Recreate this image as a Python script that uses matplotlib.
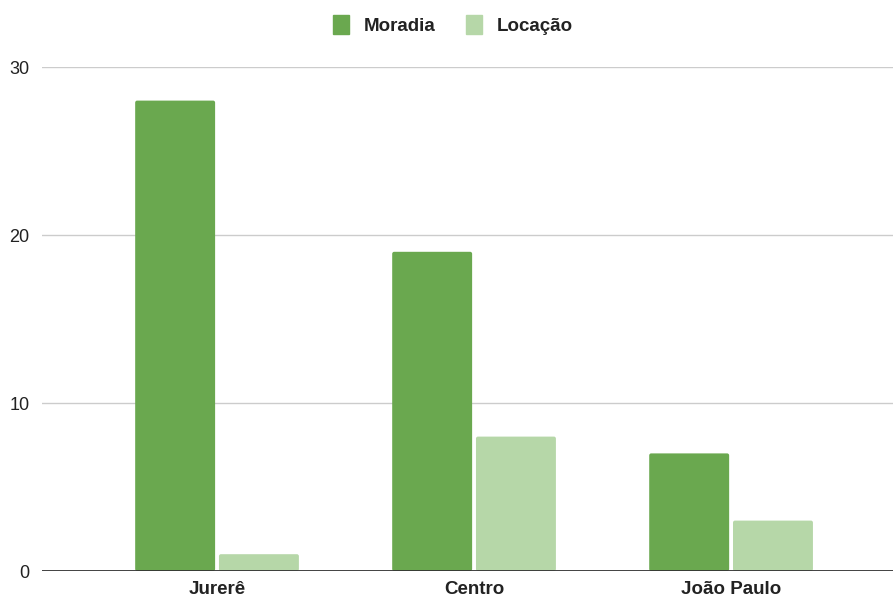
import numpy as np
import matplotlib.pyplot as plt
from matplotlib.patches import FancyBboxPatch

plt.rcParams["font.family"] = ["Liberation Sans", "DejaVu Sans"]

# bairros e contagens por tipo de uso
categories = ["Jurerê", "Centro", "João Paulo"]
moradia = [28, 19, 7]
locacao = [1, 8, 3]
series_names = ["Moradia", "Locação"]
y_ticks = [0, 10, 20, 30]

DARK_GREEN = "#6aa84f"
LIGHT_GREEN = "#b6d7a8"
GRID_COLOR = "#cccccc"
TEXT_COLOR = "#222222"

W, H = 893, 599
fig = plt.figure(figsize=(W / 100, H / 100), dpi=100)
ax = fig.add_axes([42 / W, 28 / H, 1 - 42 / W, 504 / H])

x = np.arange(len(categories))
width = 0.311
offset = 0.163
xlim = (-0.681, 2.630)
ylim = (0, 30)

bars_m = ax.bar(x - offset, moradia, width, color=DARK_GREEN, zorder=3)
bars_l = ax.bar(x + offset, locacao, width, color=LIGHT_GREEN, zorder=3)

# data units per pixel, so the corner radius comes out round on screen
x_per_px = (xlim[1] - xlim[0]) / (W - 42)
y_per_px = (ylim[1] - ylim[0]) / 504

# swap plain rectangles for ones with slightly rounded corners
for bars in (bars_m, bars_l):
    for rect in bars:
        rect.set_visible(False)
        fb = FancyBboxPatch((rect.get_x(), rect.get_y()), rect.get_width(), rect.get_height(),
                            boxstyle=f"round,pad=0,rounding_size={2 * x_per_px}",
                            mutation_aspect=y_per_px / x_per_px,
                            facecolor=rect.get_facecolor(), edgecolor="none", zorder=3)
        ax.add_patch(fb)

ax.set_xlim(*xlim)
ax.set_ylim(*ylim)
ax.set_yticks(y_ticks)
ax.set_yticklabels([str(v) for v in y_ticks], fontsize=13, color=TEXT_COLOR)
ax.set_xticks(x)
ax.set_xticklabels(categories, fontsize=13.5, fontweight="bold", color=TEXT_COLOR)
ax.tick_params(axis="both", length=0)
ax.tick_params(axis="y", pad=9)
ax.tick_params(axis="x", pad=7)

for v in y_ticks[1:]:
    ax.axhline(v, color=GRID_COLOR, linewidth=1, zorder=1)
ax.axhline(0, color="#333333", linewidth=1.3, zorder=4)

for side in ("top", "right", "left", "bottom"):
    ax.spines[side].set_visible(False)

leg = fig.legend(
    [plt.Rectangle((0, 0), 1, 1, color=DARK_GREEN), plt.Rectangle((0, 0), 1, 1, color=LIGHT_GREEN)],
    series_names,
    loc="center", bbox_to_anchor=(453 / W, 1 - 25 / H),
    ncol=2, frameon=False, handlelength=0.85, handleheight=1.2, handletextpad=0.8,
    columnspacing=1.6, prop={"size": 13.5, "weight": "bold"},
)
for t in leg.get_texts():
    t.set_color(TEXT_COLOR)

fig.savefig("out.png", dpi=100, facecolor="white")
